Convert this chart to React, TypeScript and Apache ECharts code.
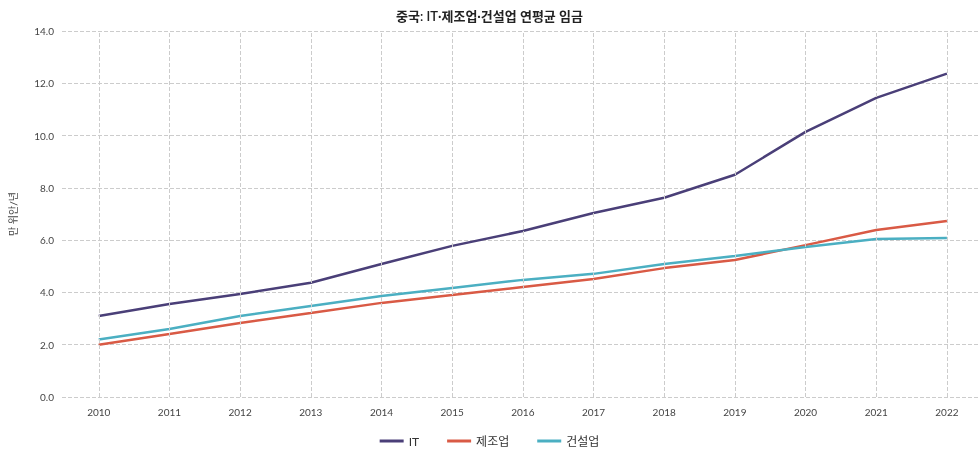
import React, { useEffect, useRef } from "react";
import * as echarts from "echarts";

const years = [2010, 2011, 2012, 2013, 2014, 2015, 2016, 2017, 2018, 2019, 2020, 2021, 2022];
const itWage = [3.1, 3.56, 3.94, 4.37, 5.09, 5.78, 6.35, 7.04, 7.62, 8.5, 10.14, 11.44, 12.37];
const mfgWage = [2.0, 2.41, 2.83, 3.21, 3.6, 3.9, 4.21, 4.51, 4.93, 5.24, 5.81, 6.39, 6.73];
const conWage = [2.2, 2.6, 3.1, 3.48, 3.86, 4.17, 4.48, 4.71, 5.09, 5.39, 5.74, 6.04, 6.08];
const seriesNames = ["IT", "제조업", "건설업"];
const colors = ["#4a3f78", "#d95a45", "#4bafc2"];

export default function App() {
  const ref = useRef<HTMLDivElement>(null);
  useEffect(() => {
    const chart = echarts.init(ref.current!, null, { renderer: "svg" });
    const font = "Lato, 'Noto Sans CJK KR', sans-serif";
    const all = [itWage, mfgWage, conWage];
    chart.setOption({
      animation: false,
      textStyle: { fontFamily: font },
      title: {
        text: "중국: IT·제조업·건설업 연평균 임금",
        left: "center",
        top: 4,
        textStyle: { fontSize: 13, fontWeight: 600, color: "#222", fontFamily: font },
      },
      legend: {
        bottom: 10,
        itemWidth: 24,
        itemHeight: 3,
        itemGap: 28,
        icon: "rect",
        textStyle: { fontSize: 12, color: "#333" },
        data: seriesNames,
      },
      grid: { left: 62, right: 1, top: 31, bottom: 65 },
      xAxis: {
        type: "value",
        min: 2009.48,
        max: 2022.44,
        axisLine: { show: false },
        axisTick: { show: false },
        splitLine: { show: false },
        axisLabel: { customValues: years, color: "#444", fontSize: 10, margin: 10, formatter: (v: number) => String(Math.round(v)) },
      },
      yAxis: {
        type: "value",
        min: 0,
        max: 14,
        interval: 2,
        name: "만 위안/년",
        nameLocation: "middle",
        nameGap: 44,
        nameTextStyle: { fontSize: 10, color: "#444" },
        axisLine: { show: false },
        axisTick: { show: false },
        axisLabel: { color: "#444", fontSize: 10, formatter: (v: number) => v.toFixed(1) },
        splitLine: { lineStyle: { type: "dashed", color: "#cccccc" } },
      },
      series: all.map((arr, i) => ({
        name: seriesNames[i],
        type: "line",
        showSymbol: false,
        symbol: "none",
        lineStyle: { width: 2.5, color: colors[i] },
        itemStyle: { color: colors[i] },
        data: years.map((y, k) => [y, arr[k]]),
        markLine: i === 0 ? {
          silent: true,
          symbol: "none",
          label: { show: false },
          lineStyle: { type: "dashed", color: "#cccccc", width: 1 },
          data: years.map((y) => ({ xAxis: y })),
        } : undefined,
        z: 3,
      })),
    });
    return () => chart.dispose();
  }, []);
  return <div ref={ref} style={{ position: "fixed", left: 0, top: 0, width: 979, height: 462 }} />;
}
